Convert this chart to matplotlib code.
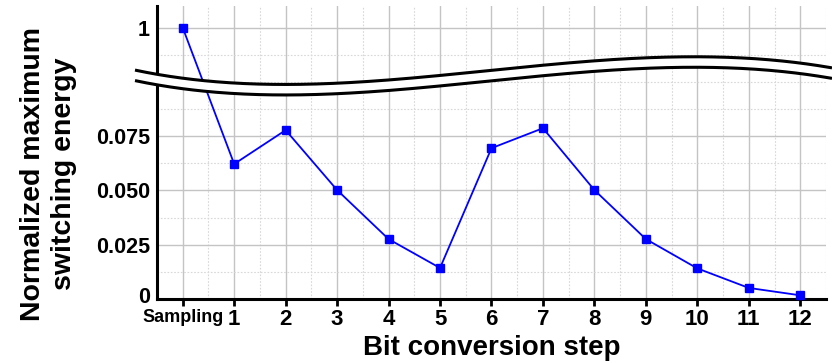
import numpy as np
import matplotlib.pyplot as plt
from matplotlib.ticker import MultipleLocator
from matplotlib.transforms import ScaledTranslation

plt.rcParams["font.family"] = ["Liberation Sans", "DejaVu Sans"]
plt.rcParams["font.weight"] = "bold"

# ---- data ----
steps = ["Sampling", "1", "2", "3", "4", "5", "6", "7", "8", "9", "10", "11", "12"]
energy = [1.0, 0.0622, 0.0778, 0.0502, 0.0276, 0.0143, 0.0695, 0.0787,
          0.0502, 0.0276, 0.0141, 0.0051, 0.0017]
y_ticks = [0, 0.025, 0.05, 0.075, 1.0]
y_tick_labels = ["0", "0.025", "0.050", "0.075", "1"]

# broken axis: values above the break are drawn at 0.125
BREAK_POS = 0.125
def to_axis(v):
    v = np.asarray(v, dtype=float)
    return np.where(v > 0.1, BREAK_POS + (v - 1.0) * 0.025, v)

W, H = 832, 363
fig = plt.figure(figsize=(W / 100, H / 100), dpi=100)
ax = fig.add_axes([157 / W, 1 - 299 / H, (826 - 157) / W, (299 - 6) / H])

x = np.arange(len(steps))
ax.plot(x, to_axis(energy), "s-", color="#0000ff", lw=1.3, ms=5.5, zorder=5, clip_on=False)

ax.set_xlim(-0.5, 12.5)
ax.set_ylim(0, 0.135)
ax.set_xticks(x)
ax.set_xticklabels(steps)
ax.xaxis.set_minor_locator(MultipleLocator(0.5))
ax.set_yticks(to_axis(y_ticks))
ax.set_yticklabels(y_tick_labels)
ax.set_yticks([0.0125, 0.0375, 0.0625, 0.0875, 0.1, 0.1125], minor=True)

ax.grid(True, which="major", color="#c4c4c4", lw=1.0)
ax.grid(True, which="minor", color="#d8d8d8", lw=0.8, ls=(0, (1.5, 1.5)))
ax.set_axisbelow(True)

for s in ["top", "right"]:
    ax.spines[s].set_visible(False)
for s in ["left", "bottom"]:
    ax.spines[s].set_linewidth(2.2)

ax.tick_params(axis="x", which="major", length=5, width=2, pad=2, labelsize=16)
ax.tick_params(axis="x", which="minor", length=0)
ax.tick_params(axis="y", which="both", length=0, pad=5, labelsize=15.5)
for lab in ax.get_xticklabels():
    lab.set_fontweight("bold")
    if lab.get_text() == "Sampling":
        lab.set_fontsize(13)
for lab in ax.get_yticklabels():
    lab.set_fontweight("bold")
    if lab.get_text() == "0":
        # nudge the "0" up a little so it clears "Sampling"
        lab.set_transform(lab.get_transform() + ScaledTranslation(0, 3 / 72, fig.dpi_scale_trans))

ax.set_xlabel("Bit conversion step", fontsize=20, fontweight="bold", labelpad=4)
ax.set_ylabel("Normalized maximum\nswitching energy", fontsize=20.5,
              fontweight="bold", linespacing=1.25)
ax.yaxis.set_label_coords(-0.12, 0.427)

# ---- axis break curves (overlay in pixel coords) ----
ov = fig.add_axes([0, 0, 1, 1], zorder=10)
ov.set_xlim(0, W)
ov.set_ylim(H, 0)
ov.axis("off")
px = [135, 230, 430, 600, 730, 832]
py = [70, 83, 76, 61, 57, 68]
coef = np.polyfit(px, py, 4)
xs = np.linspace(135, 832, 300)
upper = np.polyval(coef, xs)
lower = upper + 10.5
ov.fill_between(xs, upper, lower, color="white", lw=0)
ov.plot(xs, upper, color="black", lw=2.2, solid_capstyle="butt")
ov.plot(xs, lower, color="black", lw=2.2, solid_capstyle="butt")

fig.savefig("out.png", dpi=100)
